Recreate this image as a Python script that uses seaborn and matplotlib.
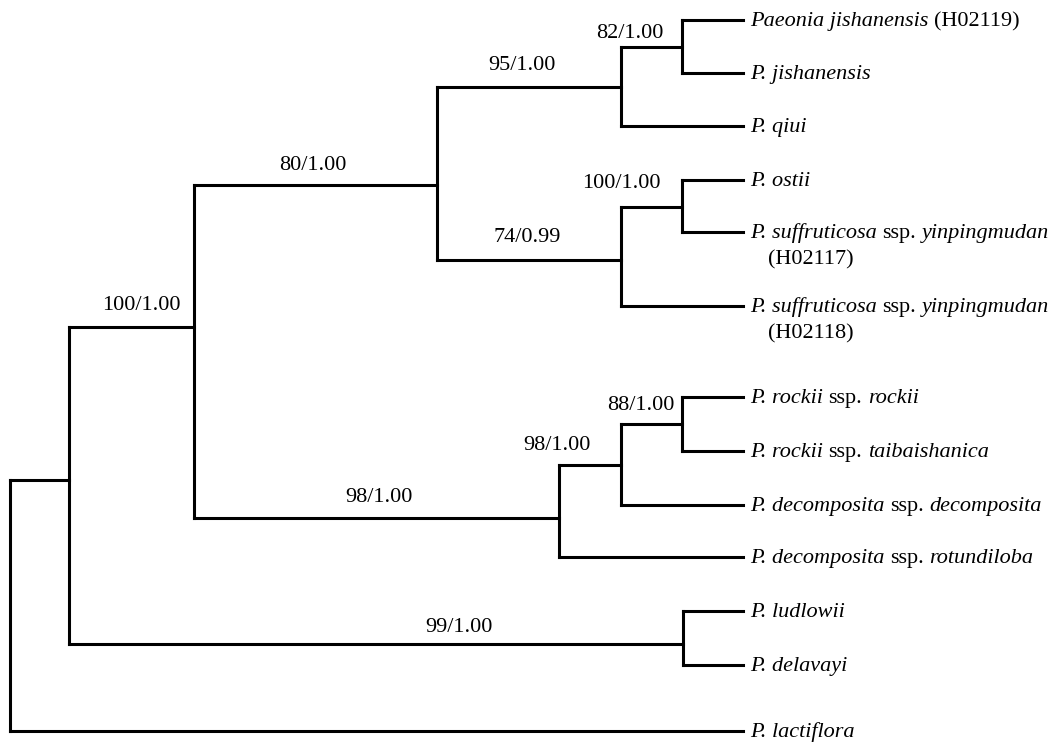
import matplotlib
matplotlib.use("Agg")
import matplotlib.pyplot as plt
import seaborn as sns
import pandas as pd

# ---------------- data ----------------
# internal nodes: name, parent, depth (x), vertical position (y)
node_names  = ["root", "A", "B", "C", "D", "E", "F", "G", "H", "I", "J", "K"]
node_parent = [None, "root", "A", "B", "C", "D", "C", "F", "B", "H", "I", "A"]
node_x      = [10, 69, 194, 437, 621, 682, 621, 682, 559, 621, 682, 683]
node_y      = [None, 480, 327, 185, 87, 47, 260, 207, 518, 465, 424, 644]

# leaves: label pieces (text, italic), parent node, y
leaf_labels = [
    [("Paeonia jishanensis", True), ("(H02119)", False)],
    [("P. jishanensis", True)],
    [("P. qiui", True)],
    [("P. ostii", True)],
    [("P. suffruticosa", True), ("ssp.", False), ("yinpingmudan", True)],
    [("P. suffruticosa", True), ("ssp.", False), ("yinpingmudan", True)],
    [("P. rockii", True), ("ssp.", False), ("rockii", True)],
    [("P. rockii", True), ("ssp.", False), ("taibaishanica", True)],
    [("P. decomposita", True), ("ssp.", False), ("decomposita", True)],
    [("P. decomposita", True), ("ssp.", False), ("rotundiloba", True)],
    [("P. ludlowii", True)],
    [("P. delavayi", True)],
    [("P. lactiflora", True)],
]
leaf_second_line = ["", "", "", "", "(H02117)", "(H02118)", "", "", "", "", "", "", ""]
leaf_parent = ["E", "E", "D", "G", "G", "F", "J", "J", "I", "H", "K", "K", "root"]
leaf_y      = [20, 73, 126, 180, 232, 306, 397, 451, 505, 557, 611, 665, 731]
leaf_depth  = 743

# support values (bootstrap / posterior) and where they are written
support_text = ["100/1.00", "80/1.00", "95/1.00", "82/1.00", "74/0.99",
                "100/1.00", "98/1.00", "98/1.00", "88/1.00", "99/1.00"]
support_x    = [141, 313, 522, 630, 527, 621, 379, 557, 641, 459]
support_y    = [305, 165, 66, 33, 238, 183, 497, 446, 405, 627]

# ---------------- build segments ----------------
nx = dict(zip(node_names, node_x))
ny = dict(zip(node_names, node_y))
children = {n: [] for n in node_names}
for n, p in zip(node_names, node_parent):
    if p is not None:
        children[p].append(ny[n])
for p, y in zip(leaf_parent, leaf_y):
    children[p].append(y)

rows = []
seg = 0
# horizontal stems of internal nodes
for n, p in zip(node_names, node_parent):
    if p is None:
        continue
    rows += [(seg, nx[p], ny[n]), (seg, nx[n], ny[n])]
    seg += 1
# horizontal stems of leaves
for p, y in zip(leaf_parent, leaf_y):
    rows += [(seg, nx[p], y), (seg, leaf_depth, y)]
    seg += 1
# vertical connectors
for n in node_names:
    ys = children[n]
    rows += [(seg, nx[n], min(ys)), (seg, nx[n], max(ys))]
    seg += 1
df = pd.DataFrame(rows, columns=["seg", "x", "y"])

# ---------------- draw ----------------
sns.set_theme(style="white")
plt.rcParams["font.family"] = ["Liberation Serif", "DejaVu Serif"]

fig = plt.figure(figsize=(10.62, 7.42), dpi=100)
ax = fig.add_axes([0, 0, 1, 1])
sns.lineplot(data=df, x="x", y="y", units="seg", estimator=None, sort=False,
             color="black", linewidth=2.2, ax=ax, legend=False)
for line in ax.get_lines():
    line.set_solid_capstyle("projecting")
ax.set_xlim(0, 1062)
ax.set_ylim(742, 0)
ax.axis("off")

FS = 16
renderer = fig.canvas.get_renderer()
inv = ax.transData.inverted()
space_px = 0.25 * FS * fig.dpi / 72.0


def draw_pieces(x, y, pieces):
    for txt, ital in pieces:
        t = ax.text(x, y, txt, fontsize=FS, style="italic" if ital else "normal",
                    ha="left", va="baseline", color="black")
        bb = t.get_window_extent(renderer)
        x = inv.transform((bb.x1 + space_px, 0))[0]


for pieces, second, y in zip(leaf_labels, leaf_second_line, leaf_y):
    draw_pieces(leaf_depth + 7, y + 6, pieces)
    if second:
        ax.text(leaf_depth + 25, y + 32, second, fontsize=FS, ha="left",
                va="baseline", color="black")

for txt, x, y in zip(support_text, support_x, support_y):
    ax.text(x, y, txt, fontsize=FS, ha="center", va="center", color="black")

fig.savefig("out.png", dpi=100, facecolor="white")
